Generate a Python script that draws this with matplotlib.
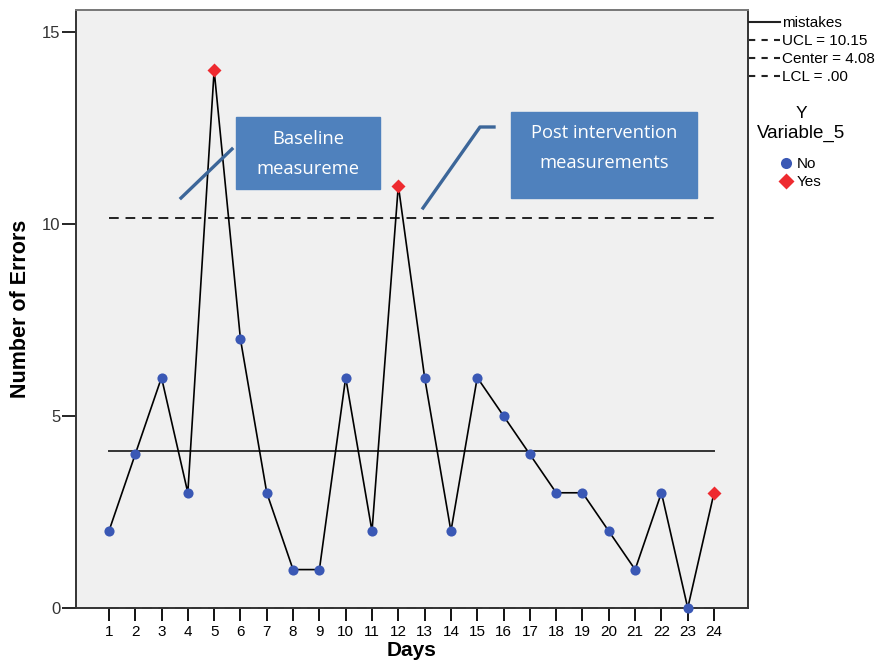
import numpy as np
import matplotlib
matplotlib.use("Agg")
import matplotlib.pyplot as plt
from matplotlib.lines import Line2D

# ===== data =====
days    = np.arange(1, 25)
errors  = [2, 4, 6, 3, 14, 7, 3, 1, 1, 6, 2, 11, 6, 2, 6, 5, 4, 3, 3, 2, 1, 3, 0, 3]
flagged = [0, 0, 0, 0, 1, 0, 0, 0, 0, 0, 0, 1, 0, 0, 0, 0, 0, 0, 0, 0, 0, 0, 0, 1]
UCL, CENTER, LCL = 10.15, 4.08, 0.00

BLUE_PT   = "#3A58B5"
RED_PT    = "#EE2A2F"
BOX_BLUE  = "#4F81BD"
LINE_BLUE = "#3C6699"

plt.rcParams["font.family"] = ["Liberation Sans", "DejaVu Sans"]

W, H = 889, 663
fig = plt.figure(figsize=(W / 100, H / 100), dpi=100)
ax = fig.add_axes([76 / W, 1 - 608 / H, (748 - 76) / W, (608 - 10) / H])
ax.set_facecolor("#F0F0F0")

# control lines
ax.plot([days[0], days[-1]], [UCL, UCL], color="#222222", lw=1.4,
        ls=(0, (5, 3.5)), zorder=2)
ax.plot([days[0], days[-1]], [CENTER, CENTER], color="#333333", lw=1.4, zorder=2)
ax.plot([days[0], days[-1]], [LCL, LCL], color="#555555", lw=1.4,
        ls=(0, (5, 3.5)), zorder=2, clip_on=False)

# series
ax.plot(days, errors, color="black", lw=1.2, zorder=3)
err = np.array(errors)
fl = np.array(flagged, dtype=bool)
ax.plot(days[~fl], err[~fl], "o", color=BLUE_PT, ms=7.3, mec="none", zorder=4,
        clip_on=False)
ax.plot(days[fl], err[fl], "D", color=RED_PT, ms=7.5, mec="none", zorder=4,
        clip_on=False)

ax.set_xlim(-0.25, 25.29)
ax.set_ylim(0, 15.57)
ax.set_xticks(days)
ax.set_xticklabels([str(d) for d in days], fontsize=11)
ax.set_yticks([0, 5, 10, 15])
ax.set_yticklabels(["0", "5", "10", "15"], fontsize=12, color="#333333")
ax.tick_params(axis="x", direction="out", length=9, width=1.3, pad=3)
ax.tick_params(axis="y", direction="out", length=10, width=1.2, pad=1)
for s in ax.spines.values():
    s.set_linewidth(1.4)
    s.set_color("#333333")
ax.spines["top"].set_color("#777777")

ax.set_xlabel("Days", fontsize=15, fontweight="bold", labelpad=2)
ax.set_ylabel("Number of Errors", fontsize=15.5, fontweight="bold", labelpad=8)

# annotation boxes
def box(x0, y0, x1, y1, ty, text):
    fig.patches.append(plt.Rectangle((x0 / W, 1 - y1 / H), (x1 - x0) / W,
                                     (y1 - y0) / H, transform=fig.transFigure,
                                     color=BOX_BLUE, zorder=5))
    fig.text((x0 + x1) / 2 / W, 1 - ty / H, text, color="white",
             ha="center", va="center", fontsize=13.2,
             family=["Open Sans", "DejaVu Sans"], linespacing=1.85, zorder=6)

box(236, 117, 380, 189, 154, "Baseline\nmeasureme")
box(511, 112, 697, 198, 148, "Post intervention\nmeasurements")

fig.add_artist(Line2D([181 / W, 232 / W], [1 - 198 / H, 1 - 149 / H],
                      color=LINE_BLUE, lw=2.4, zorder=5))
fig.add_artist(Line2D([423 / W, 480 / W, 494 / W],
                      [1 - 208 / H, 1 - 127 / H, 1 - 127 / H],
                      color=LINE_BLUE, lw=2.4, zorder=5))

# legends
h1 = [Line2D([], [], color="#222222", lw=1.5),
      Line2D([], [], color="#222222", lw=1.5, ls=(0, (3, 3))),
      Line2D([], [], color="#222222", lw=1.5, ls=(0, (3, 3))),
      Line2D([], [], color="#222222", lw=1.5, ls=(0, (3, 3)))]
fig.legend(h1, ["mistakes", f"UCL = {UCL:.2f}", f"Center = {CENTER:.2f}",
                f"LCL = {LCL:.2f}".replace("0.00", ".00")],
           loc="upper left", bbox_to_anchor=(746 / W, 1 - 13 / H),
           frameon=False, fontsize=11, handlelength=2.0, handletextpad=0.15,
           labelspacing=0.27, borderpad=0.2, borderaxespad=0)

h2 = [Line2D([], [], marker="o", color=BLUE_PT, ls="none", ms=8, mec="none"),
      Line2D([], [], marker="D", color=RED_PT, ls="none", ms=8, mec="none")]
fig.legend(h2, ["No", "Yes"], loc="upper left",
           bbox_to_anchor=(777 / W, 1 - 154 / H),
           frameon=False, fontsize=11, handlelength=0.8, handletextpad=0.3,
           labelspacing=0.25, borderpad=0.2, borderaxespad=0)
fig.text(801 / W, 1 - 113 / H, "Y", ha="center", va="center", fontsize=12.5)
fig.text(801 / W, 1 - 133 / H, "Variable_5", ha="center", va="center",
         fontsize=13.5)

fig.savefig("out.png", dpi=100)
